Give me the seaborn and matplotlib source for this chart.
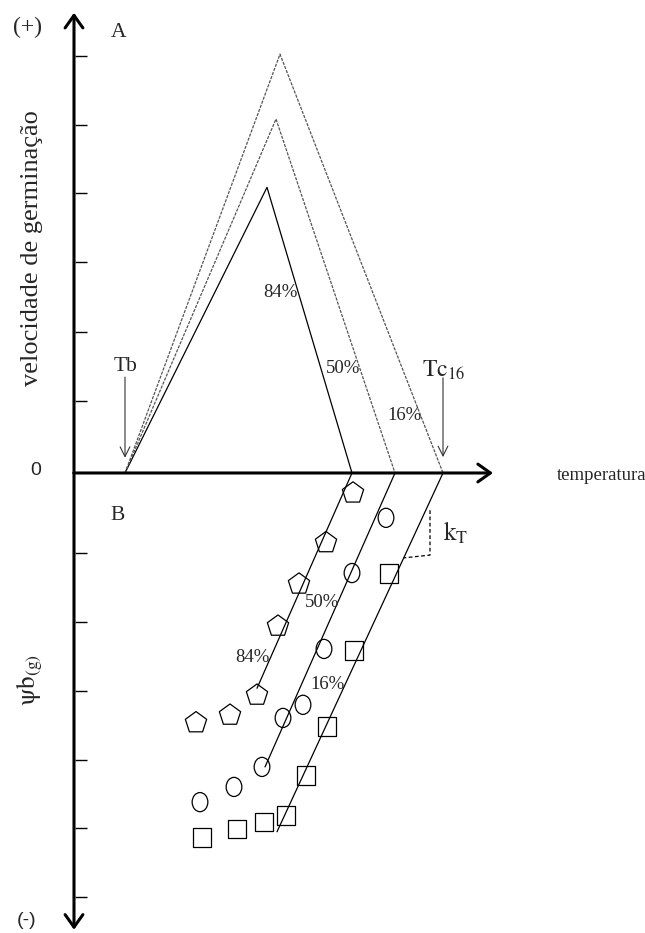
import numpy as np
import pandas as pd
import matplotlib
matplotlib.use("Agg")
import matplotlib.pyplot as plt
import matplotlib.path as mpath
import seaborn as sns

# schematic units: temperature (x), germination rate / psi_b (y)
pct = ["84%", "50%", "16%"]
t_base = 5.1
t_opt = [19.3, 20.2, 20.6]
rate_max = [4.14, 5.13, 6.07]
t_ceil = [27.8, 32.1, 36.9]

# lower panel: psi_b(g) lines (from Tc down to the last fitted point)
line_end_t = [18.3, 19.1, 20.3]
line_end_psi = [-3.12, -4.26, -5.20]

pent_t = [27.9, 25.2, 22.5, 20.4, 18.3, 15.6, 12.2]
pent_psi = [-0.29, -1.01, -1.61, -2.22, -3.22, -3.51, -3.62]
circ_t = [31.2, 27.8, 25.0, 22.9, 20.9, 18.8, 16.0, 12.6]
circ_psi = [-0.65, -1.45, -2.55, -3.36, -3.55, -4.26, -4.55, -4.77]
sq_t = [31.5, 28.0, 25.3, 23.2, 21.2, 19.0, 16.3, 12.8]
sq_psi = [-1.46, -2.57, -3.67, -4.38, -4.96, -5.06, -5.16, -5.28]

yticks_top = [1.04, 2.04, 3.06, 4.06, 5.04, 6.04]
yticks_bot = [-1.16, -2.16, -3.16, -4.16, -5.15, -6.15]

sns.set_style("white")
plt.rcParams["font.family"] = ["Liberation Serif", "DejaVu Serif"]
plt.rcParams["mathtext.fontset"] = "stix"

fig = plt.figure(figsize=(6.45, 9.33), dpi=100)
ax = fig.add_axes([0, 0, 1, 1])
ax.set_xlim(-7.4, 57.1)
ax.set_ylim(-6.667, 6.855)
ax.axis("off")

# axes with open arrowheads
arr = dict(arrowstyle="->,head_length=0.45,head_width=0.32", lw=2.2,
           color="black", mutation_scale=20, shrinkA=0, shrinkB=0)
ax.annotate("", xy=(0, 6.67), xytext=(0, 0), arrowprops=arr)
ax.annotate("", xy=(0, -6.62), xytext=(0, 0), arrowprops=arr)
ax.annotate("", xy=(41.9, 0), xytext=(0, 0), arrowprops=arr)
ax.hlines(yticks_top + yticks_bot, 0.1, 1.3, color="black", lw=1.0)

# A: rate vs temperature triangles
styles = ["-", (0, (2.5, 1.0)), (0, (2.5, 1.0))]
colors = ["black", "#555555", "#555555"]
for i in range(3):
    tri = pd.DataFrame({"t": [t_base, t_opt[i], t_ceil[i]],
                        "r": [0, rate_max[i], 0]})
    sns.lineplot(data=tri, x="t", y="r", ax=ax, sort=False, color=colors[i],
                 linestyle=styles[i], lw=0.9)

# B: psi_b(g) lines
for i in range(3):
    ln = pd.DataFrame({"t": [t_ceil[i], line_end_t[i]],
                       "p": [0, line_end_psi[i]]})
    sns.lineplot(data=ln, x="t", y="p", ax=ax, sort=False, color="black", lw=0.9)

ellipse = mpath.Path(mpath.Path.unit_circle().vertices * [0.82, 1.0],
                     mpath.Path.unit_circle().codes)
sns.scatterplot(x=pent_t, y=pent_psi, ax=ax, marker="p", s=260,
                facecolor="none", edgecolor="black", linewidth=0.9)
sns.scatterplot(x=circ_t, y=circ_psi, ax=ax, marker=ellipse, s=190,
                facecolor="none", edgecolor="black", linewidth=0.9)
sns.scatterplot(x=sq_t, y=sq_psi, ax=ax, marker="s", s=180,
                facecolor="none", edgecolor="black", linewidth=0.9)

# small arrows for Tb and Tc16
thin = dict(arrowstyle="->,head_length=0.5,head_width=0.25", lw=0.8,
            color="#333333", mutation_scale=14, shrinkA=0, shrinkB=0)
ax.annotate("", xy=(5.1, 0.22), xytext=(5.1, 1.39), arrowprops=thin)
ax.annotate("", xy=(36.9, 0.23), xytext=(36.9, 1.38), arrowprops=thin)

# kT bracket
ax.plot([35.6, 35.6, 33.0], [-0.54, -1.19, -1.23], color="black", lw=0.9,
        linestyle=(0, (3, 2)))

# texts
ax.text(-4.6, 6.46, "(+)", fontsize=17, ha="center", va="center")
ax.text(4.5, 6.38, "A", fontsize=15.5, ha="center", va="center")
ax.text(-4.2, 3.26, "velocidade de germinação", fontsize=19, rotation=90,
        ha="center", va="center")
ax.text(5.2, 1.54, "Tb", fontsize=15.5, ha="center", va="center")
ax.text(20.6, 2.62, pct[0], fontsize=13.5, ha="center", va="center")
ax.text(26.9, 1.51, pct[1], fontsize=13.5, ha="center", va="center")
ax.text(33.1, 0.84, pct[2], fontsize=13.5, ha="center", va="center")
ax.text(37.0, 1.49, r"$\mathrm{Tc}_{16}$", fontsize=17, ha="center", va="center")
ax.text(-3.8, 0.04, "0", fontsize=14, ha="center", va="center",
        family="Liberation Sans")
ax.text(48.3, -0.03, "temperatura", fontsize=13.5, ha="left", va="center")
ax.text(4.4, -0.62, "B", fontsize=15.5, ha="center", va="center")
ax.text(24.8, -1.88, pct[1], fontsize=13.5, ha="center", va="center")
ax.text(17.8, -2.68, pct[0], fontsize=13.5, ha="center", va="center")
ax.text(25.4, -3.07, pct[2], fontsize=13.5, ha="center", va="center")
ax.text(36.9, -0.87, r"$\mathrm{k}_{\mathrm{T}}$", fontsize=18, ha="left",
        va="center")
ax.text(-4.4, -3.0, r"$\mathrm{\psi b}_{\mathrm{(g)}}$", fontsize=18,
        rotation=90, ha="center", va="center")
ax.text(-4.7, -6.48, "(-)", fontsize=14, ha="center", va="center",
        family="Liberation Sans")

fig.savefig("out.png", dpi=100)
